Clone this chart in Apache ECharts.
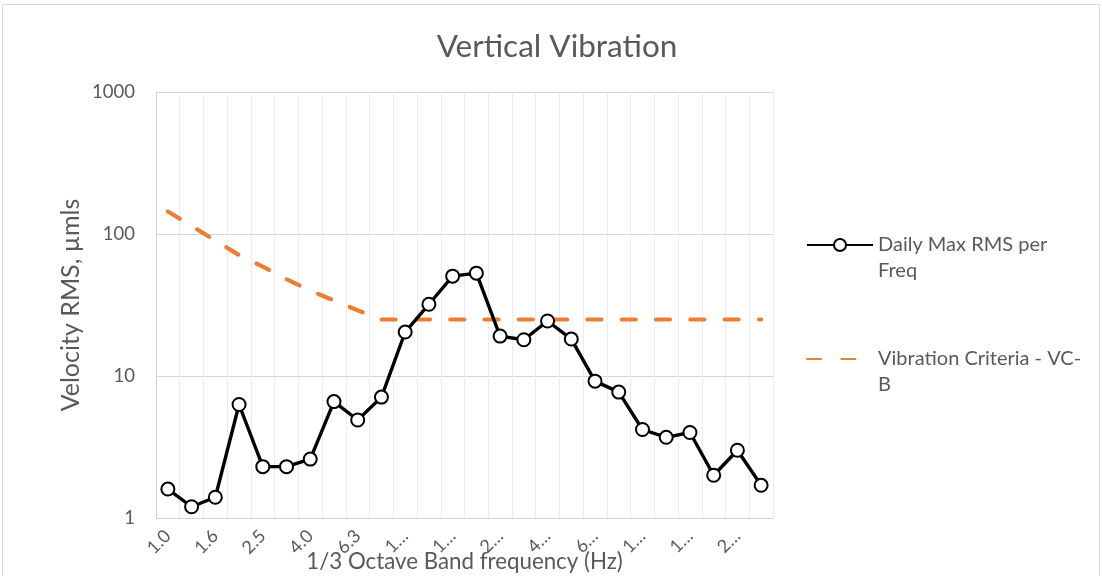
<!DOCTYPE html>
<html>
<head>
<meta charset="utf-8">
<script src="https://cdn.jsdelivr.net/npm/echarts@6/dist/echarts.min.js"></script>
<style>
  html, body { margin: 0; padding: 0; background: #fff; }
  #chart { width: 1102px; height: 576px; }
</style>
</head>
<body>
<div id="chart"></div>
<script>
// 1/3 octave band centre frequencies (Hz)
const bands = ["1.0","1.25","1.6","2.0","2.5","3.15","4.0","5.0","6.3","8.0",
  "10.0","12.5","16.0","20.0","25.0","31.5","40.0","50.0","63.0","80.0",
  "100.0","125.0","160.0","200.0","250.0","315.0"];

// Daily maximum RMS velocity per band (µm/s)
const dailyMaxRms = [1.6, 1.2, 1.4, 6.3, 2.3, 2.3, 2.6, 6.6, 4.9, 7.1,
  20.4, 32, 50.5, 53, 19.1, 18, 24.4, 18.2, 9.2, 7.7,
  4.2, 3.7, 4.0, 2.0, 3.0, 1.7];

// VC-B vibration criterion curve (µm/s)
const vcB = [144, 114, 90, 71, 59, 48, 40, 34, 29, 25,
  25, 25, 25, 25, 25, 25, 25, 25, 25, 25,
  25, 25, 25, 25, 25, 25];

const yTicks = [1, 10, 100, 1000];

const seriesNames = ["Daily Max RMS per Freq", "Vibration Criteria - VC-B"];

const FONT = "Lato";
const GREY = "#595959";
const ORANGE = "#ED7D31";

// half-band slots, used only to draw the faint lines through band centres
const halfSlots = bands.flatMap(b => [b + "a", b + "b"]);

// band labels that do not fit the narrow slot are cut short with an ellipsis
const shortLabel = s => (s.length > 3 ? s.charAt(0) + "…" : s);

const chart = echarts.init(document.getElementById("chart"), null, { renderer: "canvas" });

chart.setOption({
  animation: false,
  backgroundColor: "#fff",
  textStyle: { fontFamily: FONT, color: GREY },
  title: {
    text: "Vertical Vibration",
    left: 552, top: 26, textAlign: "center",
    textStyle: { fontFamily: FONT, fontSize: 31.5, fontWeight: "normal", color: GREY }
  },
  graphic: [{
    type: "rect",
    shape: { x: 2.5, y: 4.5, width: 1097, height: 590 },
    style: { fill: "none", stroke: "#d9d9d9", lineWidth: 1 },
    silent: true, z: -10
  }],
  legend: {
    orient: "vertical",
    left: 801, top: 201,
    itemWidth: 66, itemHeight: 15, itemGap: 36,
    data: [
      { name: seriesNames[0] },
      { name: seriesNames[1], itemStyle: { color: "rgba(0,0,0,0)", borderColor: "rgba(0,0,0,0)", borderWidth: 0 } }
    ],
    formatter: n => "\n" + n.replace("per ", "per\n").replace("VC-", "VC-\n"),
    textStyle: { fontFamily: FONT, fontSize: 20, color: GREY, lineHeight: 26 }
  },
  grid: { left: 156, right: 329, top: 92, bottom: 58, containLabel: false, outerBoundsMode: "none" },
  xAxis: [{
    type: "category",
    data: bands,
    boundaryGap: true,
    name: "1/3 Octave Band frequency (Hz)",
    nameLocation: "middle",
    nameGap: 33,
    nameMoveOverlap: false,
    nameTextStyle: { fontFamily: FONT, fontSize: 22.3, color: GREY },
    axisLine: { show: true, lineStyle: { color: "#d0d0d0", width: 1 } },
    axisTick: { show: false },
    axisLabel: {
      interval: 1, rotate: 45, margin: 15,
      fontFamily: FONT, fontSize: 18, color: GREY,
      formatter: shortLabel
    },
    splitLine: { show: true, interval: 0, lineStyle: { color: "#d6d6d6", width: 1 } }
  }, {
    // faint lines through the band centres
    type: "category",
    data: halfSlots,
    boundaryGap: true,
    position: "top",
    axisLine: { show: false }, axisTick: { show: false }, axisLabel: { show: false },
    splitLine: {
      show: true,
      interval: (i) => i % 2 === 0,
      lineStyle: { color: "#ececec", width: 1 }
    },
    z: 0
  }],
  yAxis: {
    type: "log",
    logBase: 10,
    min: yTicks[0], max: yTicks[yTicks.length - 1],
    name: "Velocity RMS, µmls",
    nameLocation: "middle",
    nameRotate: 90,
    nameGap: 73,
    nameMoveOverlap: false,
    nameTextStyle: { fontFamily: FONT, fontSize: 25, color: GREY },
    axisLine: { show: true, lineStyle: { color: "#d0d0d0", width: 1 } },
    axisTick: { show: false },
    axisLabel: { fontFamily: FONT, fontSize: 18.5, color: GREY, margin: 21, formatter: v => String(v) },
    splitLine: { show: true, lineStyle: { color: "#d6d6d6", width: 1 } }
  },
  series: [{
    name: seriesNames[0],
    type: "line",
    data: dailyMaxRms,
    symbol: "circle",
    symbolSize: 13,
    showAllSymbol: true,
    z: 3,
    lineStyle: { color: "#000", width: 3.4 },
    itemStyle: { color: "#fff", borderColor: "#000", borderWidth: 2 }
  }, {
    name: seriesNames[1],
    type: "line",
    data: vcB,
    symbol: "none",
    z: 2,
    lineStyle: { color: ORANGE, width: 4.2, type: [14, 20.3], cap: "round" },
    itemStyle: { color: ORANGE }
  }]
});
</script>
</body>
</html>
